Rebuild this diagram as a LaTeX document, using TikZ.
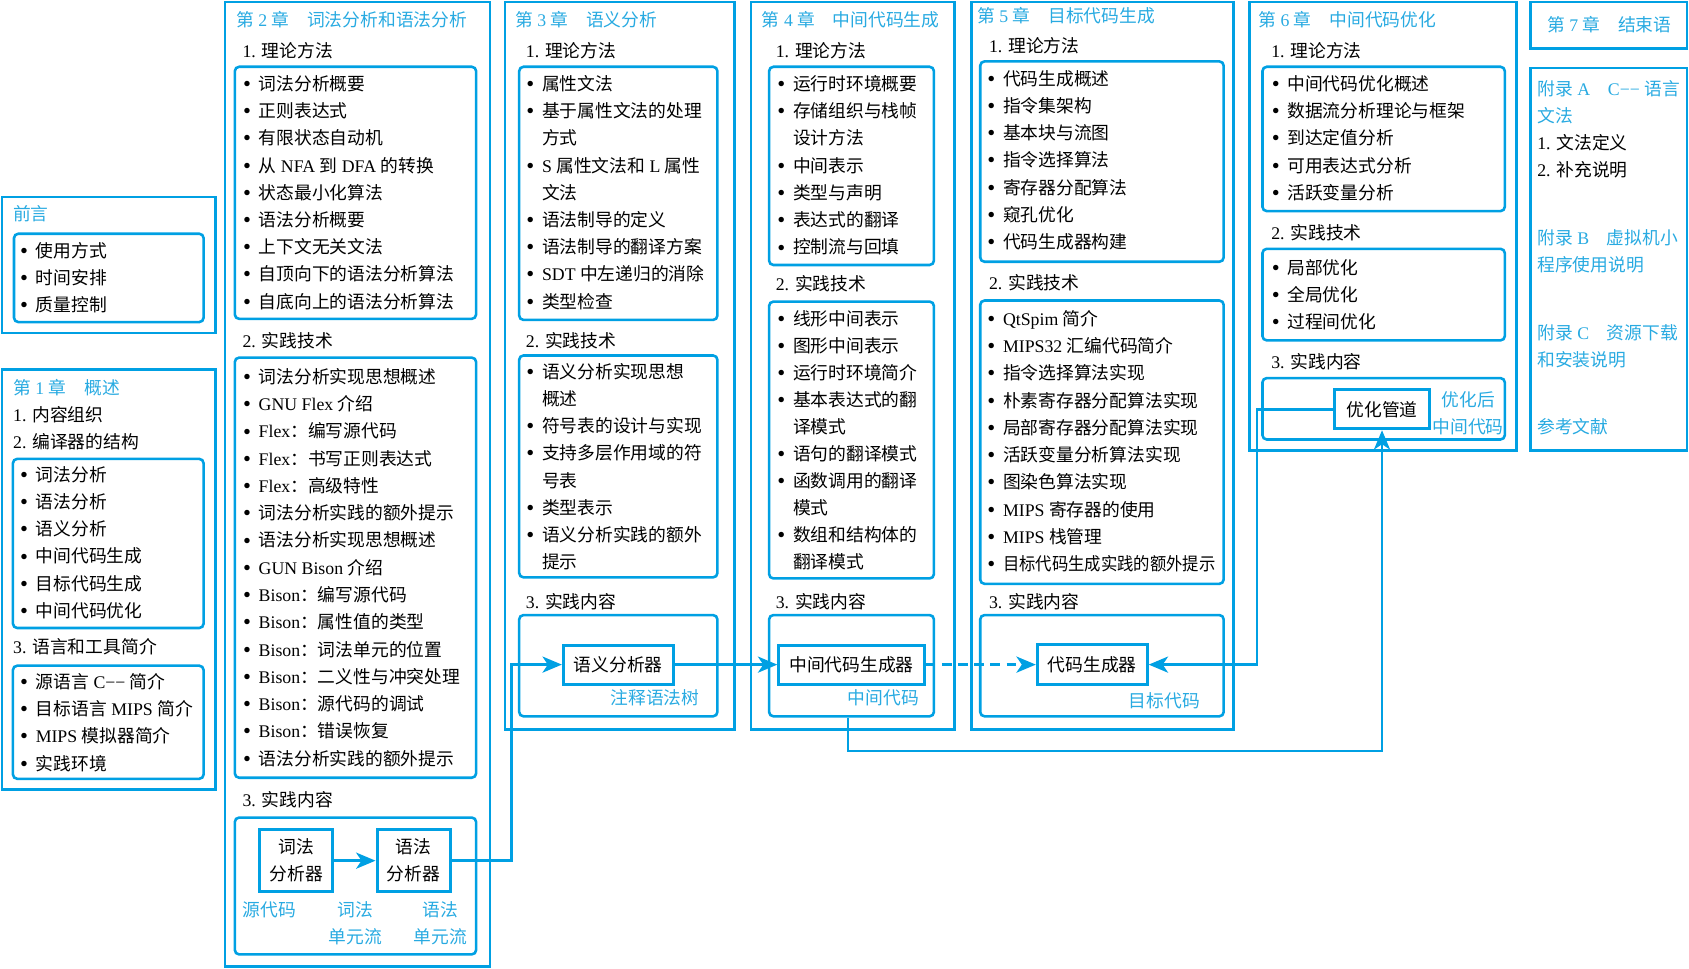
\documentclass[tikz,border=0pt]{standalone}
\usepackage{fontspec}
\setmainfont{Liberation Serif}
\newfontfamily\cjkfont{Noto Sans CJK SC}
\newfontfamily\latfont{Liberation Serif}
\usetikzlibrary{arrows.meta}
\XeTeXinterchartokenstate=1
\newXeTeXintercharclass\CJKcls
\newcount\mycnt
\mycnt="3000 \loop\XeTeXcharclass\mycnt=\CJKcls \ifnum\mycnt<"303F \advance\mycnt 1 \repeat
\mycnt="4E00 \loop\XeTeXcharclass\mycnt=\CJKcls \ifnum\mycnt<"9FFF \advance\mycnt 1 \repeat
\mycnt="FF00 \loop\XeTeXcharclass\mycnt=\CJKcls \ifnum\mycnt<"FFEF \advance\mycnt 1 \repeat
\XeTeXinterchartoks 0 \CJKcls = {\cjkfont}
\XeTeXinterchartoks 4095 \CJKcls = {\cjkfont}
\XeTeXinterchartoks \CJKcls 0 = {\latfont}
\XeTeXinterchartoks \CJKcls 4095 = {\latfont}
\definecolor{cy}{RGB}{0,160,227}
\definecolor{cyt}{RGB}{40,170,225}
\newcommand\fs{\fontsize{16.5pt}{25pt}\selectfont}
\newcommand\B{\makebox[13pt][l]{\hspace*{-1.5pt}\latfont\fontsize{21pt}{21pt}\selectfont\raisebox{-1pt}{•}}}
\newcommand\C{\hspace*{13pt}}
\tikzset{
  ob/.style={draw=cy, line width=2.4pt, inner sep=0pt},
  ib/.style={draw=cy, line width=2.4pt, rounded corners=4pt, inner sep=0pt},
  pb/.style={draw=cy, line width=2.8pt, fill=white, inner sep=0pt, font=\fs, align=center},
  tx/.style={anchor=west, inner sep=0pt, font=\fs, text height=14pt, text depth=2pt},
  ct/.style={tx, text=cyt},
  cl/.style={inner sep=0pt, font=\fs, text=cyt, text height=14pt, text depth=2pt},
  conn/.style={draw=cy, line width=2.3pt},
  arr/.style={conn, -{Stealth[length=18pt,width=15pt,inset=5pt]}},
}
\newcommand\bx[6]{\node[#6, minimum width={#4-#2}, minimum height={#5-#3}] (#1) at ({(#2+#4)/2},{(#3+#5)/2}) {};}
\newcommand\lst[5]{\foreach \t [count=\i] in {#5} {\node[tx] (#1-\i) at (#2,{#3+(\i-1)*#4}) {\t};}}
\begin{document}
\begin{tikzpicture}[x=1pt,y=-1pt]
\useasboundingbox (0,0) rectangle (1568,899);
% ---------- Preface
\bx{qy}{2}{183}{200}{309}{ob}
\bx{qyi}{13}{217}{189}{299}{ib}
\node[ct] (qyt) at (12,199) {前言};
\lst{qyl}{20}{233}{25}{{\B 使用方式},{\B 时间安排},{\B 质量控制}}
% ---------- Chapter 1
\bx{c1}{2}{343}{200}{733}{ob}
\node[ct] (c1t) at (12,360) {第 1 章　概述};
\node[tx] (c1a) at (12,385) {1. 内容组织};
\node[tx] (c1b) at (12,410) {2. 编译器的结构};
\bx{c1i}{12}{426}{189}{583}{ib}
\lst{c1l}{20}{441}{25.2}{{\B 词法分析},{\B 语法分析},{\B 语义分析},{\B 中间代码生成},{\B 目标代码生成},{\B 中间代码优化}}
\node[tx] (c1c) at (12,601) {3. 语言和工具简介};
\bx{c1j}{12}{618}{189}{723}{ib}
\lst{c1m}{20}{633}{25.3}{{\B 源语言 C−− 简介},{\B 目标语言 MIPS 简介},{\B MIPS 模拟器简介},{\B 实践环境}}
% ---------- Chapter 2
\bx{c2}{209}{2}{455}{897}{ob}
\node[ct] (c2t) at (219,19) {第 2 章　词法分析和语法分析};
\node[tx] (c2a) at (225,47) {1. 理论方法};
\bx{c2i}{218}{62}{442}{296}{ib}
\lst{c2l}{227}{78}{25.25}{{\B 词法分析概要},{\B 正则表达式},{\B 有限状态自动机},{\B 从 NFA 到 DFA 的转换},{\B 状态最小化算法},{\B 语法分析概要},{\B 上下文无关文法},{\B 自顶向下的语法分析算法},{\B 自底向上的语法分析算法}}
\node[tx] (c2b) at (225,317) {2. 实践技术};
\bx{c2j}{218}{332}{442}{722}{ib}
\lst{c2m}{227}{350}{25.3}{{\B 词法分析实现思想概述},{\B GNU Flex 介绍},{\B Flex：编写源代码},{\B Flex：书写正则表达式},{\B Flex：高级特性},{\B 词法分析实践的额外提示},{\B 语法分析实现思想概述},{\B GUN Bison 介绍},{\B Bison：编写源代码},{\B Bison：属性值的类型},{\B Bison：词法单元的位置},{\B Bison：二义性与冲突处理},{\B Bison：源代码的调试},{\B Bison：错误恢复},{\B 语法分析实践的额外提示}}
\node[tx] (c2c) at (225,743) {3. 实践内容};
\bx{c2k}{218}{759}{442}{886}{ib}
\node[pb, minimum width=68pt, minimum height=58pt] (lex) at (275,799) {词法\\分析器};
\node[pb, minimum width=68pt, minimum height=58pt] (syn) at (384,799) {语法\\分析器};
\node[cl] (l1) at (250,845) {源代码};
\node[cl] (l2) at (330,845) {词法};
\node[cl] (l3) at (330,870) {单元流};
\node[cl] (l4) at (409,845) {语法};
\node[cl] (l5) at (409,870) {单元流};
% ---------- Chapter 3
\bx{c3}{469}{2}{682}{677}{ob}
\node[ct] (c3t) at (478,19) {第 3 章　语义分析};
\node[tx] (c3a) at (488,47) {1. 理论方法};
\bx{c3i}{482}{62}{666}{297}{ib}
\lst{c3l}{490}{78}{25.25}{{\B 属性文法},{\B 基于属性文法的处理},{\C 方式},{\B S 属性文法和 L 属性},{\C 文法},{\B 语法制导的定义},{\B 语法制导的翻译方案},{\B SDT 中左递归的消除},{\B 类型检查}}
\node[tx] (c3b) at (488,317) {2. 实践技术};
\bx{c3j}{482}{330}{666}{536}{ib}
\lst{c3m}{490}{345}{25.3}{{\B 语义分析实现思想},{\C 概述},{\B 符号表的设计与实现},{\B 支持多层作用域的符},{\C 号表},{\B 类型表示},{\B 语义分析实践的额外},{\C 提示}}
\node[tx] (c3c) at (488,559) {3. 实践内容};
\bx{c3k}{482}{571}{666}{665}{ib}
\node[pb, minimum width=102pt, minimum height=36pt] (sem) at (574,617) {语义分析器};
\node[cl] (l6) at (608,648) {注释语法树};
% ---------- Chapter 4
\bx{c4}{697}{2}{886}{677}{ob}
\node[ct] (c4t) at (707,19) {第 4 章　中间代码生成};
\node[tx] (c4a) at (720,47) {1. 理论方法};
\bx{c4i}{714}{62}{867}{246}{ib}
\lst{c4l}{723}{78}{25.3}{{\B 运行时环境概要},{\B 存储组织与栈帧},{\C 设计方法},{\B 中间表示},{\B 类型与声明},{\B 表达式的翻译},{\B 控制流与回填}}
\node[tx] (c4b) at (720,264) {2. 实践技术};
\bx{c4j}{714}{280}{867}{537}{ib}
\lst{c4m}{723}{296}{25.1}{{\B 线形中间表示},{\B 图形中间表示},{\B 运行时环境简介},{\B 基本表达式的翻},{\C 译模式},{\B 语句的翻译模式},{\B 函数调用的翻译},{\C 模式},{\B 数组和结构体的},{\C 翻译模式}}
\node[tx] (c4c) at (720,559) {3. 实践内容};
\bx{c4p}{714}{571}{867}{665}{ib}
\node[pb, minimum width=135pt, minimum height=36pt] (icg) at (790.5,617) {中间代码生成器};
\node[cl] (l7) at (820,648) {中间代码};
% ---------- Chapter 5
\bx{c5}{902}{2}{1145}{677}{ob}
\node[ct] (c5t) at (907,15) {第 5 章　目标代码生成};
\node[tx] (c5a) at (918,43) {1. 理论方法};
\bx{c5i}{910}{57}{1136}{243}{ib}
\lst{c5l}{918}{73}{25.3}{{\B 代码生成概述},{\B 指令集架构},{\B 基本块与流图},{\B 指令选择算法},{\B 寄存器分配算法},{\B 窥孔优化},{\B 代码生成器构建}}
\node[tx] (c5b) at (918,263) {2. 实践技术};
\bx{c5j}{910}{279}{1136}{542}{ib}
\lst{c5m}{918}{296}{25.3}{{\B QtSpim 简介},{\B MIPS32 汇编代码简介},{\B 指令选择算法实现},{\B 朴素寄存器分配算法实现},{\B 局部寄存器分配算法实现},{\B 活跃变量分析算法实现},{\B 图染色算法实现},{\B MIPS 寄存器的使用},{\B MIPS 栈管理},{\B \scalebox{0.92}[1]{目标代码生成实践的额外提示}}}
\node[tx] (c5c) at (918,559) {3. 实践内容};
\bx{c5k}{910}{571}{1136}{665}{ib}
\node[pb, minimum width=102pt, minimum height=37pt] (cg) at (1014,617) {代码生成器};
\node[cl] (l8) at (1081,651) {目标代码};
% ---------- Chapter 6
\bx{c6}{1160}{2}{1408}{418}{ob}
\node[ct] (c6t) at (1168,19) {第 6 章　中间代码优化};
\node[tx] (c6a) at (1180,47) {1. 理论方法};
\bx{c6i}{1172}{62}{1397}{196}{ib}
\lst{c6l}{1182}{78}{25.25}{{\B 中间代码优化概述},{\B 数据流分析理论与框架},{\B 到达定值分析},{\B 可用表达式分析},{\B 活跃变量分析}}
\node[tx] (c6b) at (1180,216) {2. 实践技术};
\bx{c6j}{1172}{231}{1397}{316}{ib}
\lst{c6m}{1182}{249}{25}{{\B 局部优化},{\B 全局优化},{\B 过程间优化}}
\node[tx] (c6c) at (1180,336) {3. 实践内容};
\bx{c6k}{1172}{351}{1397}{408}{ib}
\node[pb, minimum width=88pt, minimum height=36pt] (opt) at (1283,380) {优化管道};
\node[cl] (l9) at (1363,371) {优化后};
\node[cl] (l10) at (1363,396) {中间代码};
% ---------- Chapter 7 and appendices
\bx{c7}{1421}{2}{1566}{45}{ob}
\node[cl] (c7t) at (1494,23) {第 7 章　结束语};
\bx{ap}{1421}{63}{1566}{418}{ob}
\node[ct] (apa1) at (1427,83) {附录 A　C−− 语言};
\node[ct] (apa2) at (1427,108) {文法};
\node[tx] (apa3) at (1427,133) {1. 文法定义};
\node[tx] (apa4) at (1427,158) {2. 补充说明};
\node[ct] (apb1) at (1427,221) {附录 B　虚拟机小};
\node[ct] (apb2) at (1427,246) {程序使用说明};
\node[ct] (apc1) at (1427,309) {附录 C　资源下载};
\node[ct] (apc2) at (1427,334) {和安装说明};
\node[ct] (apd) at (1427,396) {参考文献};
% ---------- connectors
\coordinate (j1) at (475,0);
\coordinate (k1) at (787,697);
\coordinate (k2) at (1167,0);
\draw[arr] (lex.east) -- (syn.west);
\draw[arr] (syn.east) -- (syn.east -| j1) |- (sem.west);
\draw[arr] (sem.east) -- (icg.west);
\draw[arr, dash pattern=on 9pt off 6pt] (icg.east) -- (cg.west);
\draw[arr] (c4p.south -| k1) -- (k1) -| (opt.south);
\draw[arr] (opt.west) -| (k2 |- cg.east) -- (cg.east);
\end{tikzpicture}
\end{document}
